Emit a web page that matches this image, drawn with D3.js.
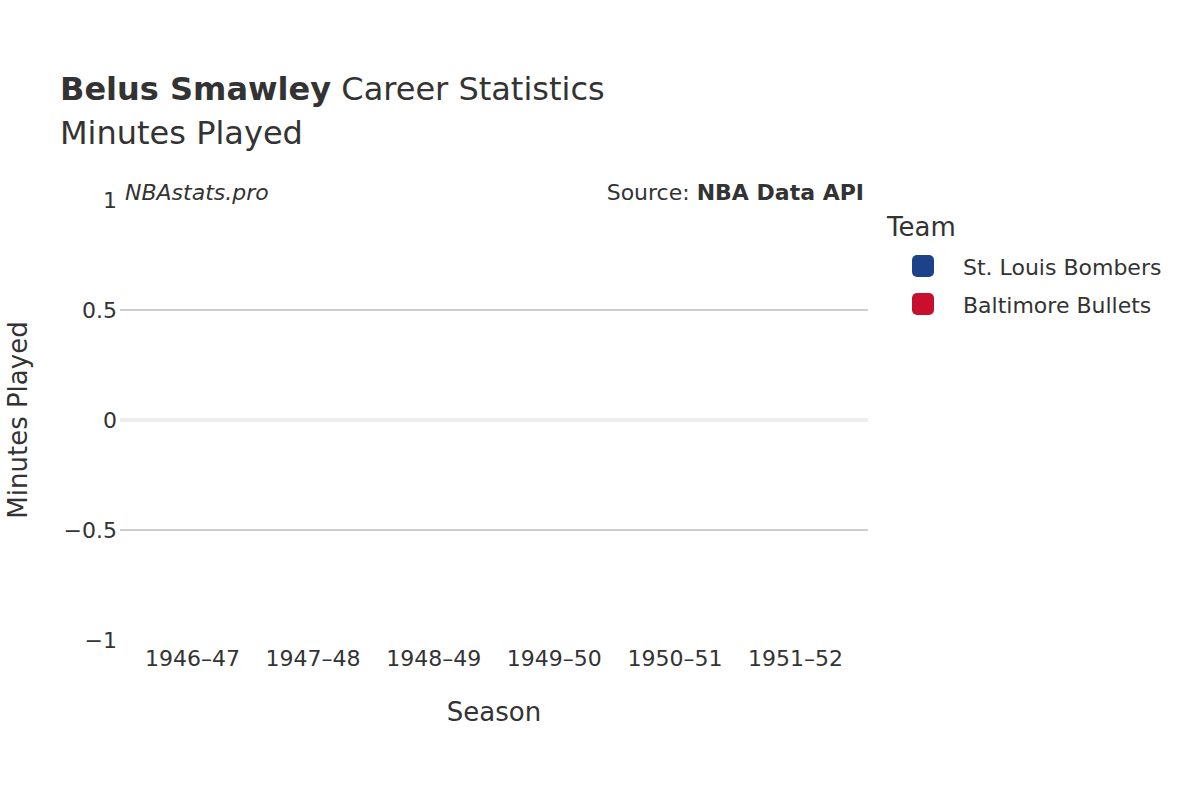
<!DOCTYPE html>
<html><head><meta charset="utf-8">
<script src="https://cdn.jsdelivr.net/npm/d3@7"></script>
<style>body{margin:0;background:#fff}text{font-family:"DejaVu Sans",sans-serif;fill:#333}</style>
</head><body><svg id="chart" width="1200" height="800"></svg>
<script>
const seasons = ['1946–47', '1947–48', '1948–49', '1949–50', '1950–51', '1951–52'];
const teams = ['St. Louis Bombers', 'Baltimore Bullets'];
const teamColors = ['#1d428a', '#c8102e'];
const minutes = [0, 0, 0, 0, 0, 0];
const yTicks = [-1, -0.5, 0, 0.5, 1];
const yTickLabels = ['−1', '−0.5', '0', '0.5', '1'];

const svg = d3.select('#chart');
const plotLeft = 120, plotRight = 868, plotTop = 200, plotBottom = 640;

const x = d3.scaleBand().domain(seasons).range([plotLeft, plotRight]).padding(0.2);
const y = d3.scaleLinear().domain([-1, 1]).range([plotBottom, plotTop]);

svg.append('g').selectAll('line').data(yTicks.filter(d => d !== 0 && Math.abs(d) !== 1))
  .enter().append('line')
  .attr('x1', plotLeft).attr('x2', plotRight)
  .attr('y1', d => y(d)).attr('y2', d => y(d))
  .attr('stroke', '#bbb').attr('stroke-width', 1.5);

svg.append('line').attr('x1', plotLeft).attr('x2', plotRight)
  .attr('y1', y(0)).attr('y2', y(0)).attr('stroke', '#eee').attr('stroke-width', 4);

svg.append('g').selectAll('rect').data(minutes).enter().append('rect')
  .attr('x', (d, i) => x(seasons[i])).attr('width', x.bandwidth())
  .attr('y', d => y(Math.max(d, 0))).attr('height', d => Math.abs(y(d) - y(0)))
  .attr('fill', teamColors[0]);

svg.append('g').selectAll('text').data(yTicks).enter().append('text')
  .attr('x', plotLeft - 3).attr('y', d => y(d)).attr('dy', '0.35em')
  .attr('text-anchor', 'end').style('font-size', '22px')
  .text((d, i) => yTickLabels[i]);

svg.append('g').selectAll('text').data(seasons).enter().append('text')
  .attr('x', d => x(d) + x.bandwidth() / 2).attr('y', 666)
  .attr('text-anchor', 'middle').style('font-size', '22px').text(d => d);

svg.append('text').attr('x', 494).attr('y', 721).attr('text-anchor', 'middle')
  .style('font-size', '26px').text('Season');
svg.append('text').attr('transform', 'translate(27,420) rotate(-90)')
  .attr('text-anchor', 'middle').style('font-size', '26px').text('Minutes Played');

const t = svg.append('text').attr('x', 60).attr('y', 100).style('font-size', '32px');
t.append('tspan').style('font-weight', 'bold').text('Belus Smawley');
t.append('tspan').text(' Career Statistics');
svg.append('text').attr('x', 60).attr('y', 144).style('font-size', '32px').text('Minutes Played');

svg.append('text').attr('x', 125).attr('y', 200).style('font-size', '22px')
  .style('font-style', 'italic').text('NBAstats.pro');
const s = svg.append('text').attr('x', 864).attr('y', 200).attr('text-anchor', 'end').style('font-size', '22px');
s.append('tspan').text('Source: ');
s.append('tspan').style('font-weight', 'bold').text('NBA Data API');

svg.append('text').attr('x', 887).attr('y', 236).style('font-size', '26px').text('Team');
const lg = svg.append('g').selectAll('g').data(teams).enter().append('g')
  .attr('transform', (d, i) => `translate(912,${255 + i * 38})`);
lg.append('rect').attr('width', 22).attr('height', 22).attr('rx', 5)
  .attr('fill', (d, i) => teamColors[i]);
lg.append('text').attr('x', 51).attr('y', 12).attr('dy', '0.35em')
  .style('font-size', '22px').text(d => d);
</script></body></html>
